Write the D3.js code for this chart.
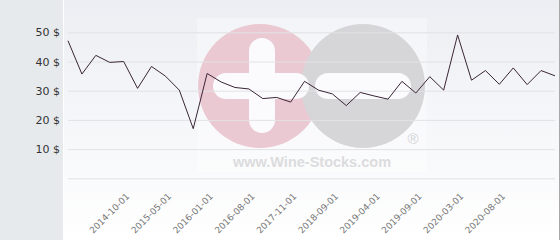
<!DOCTYPE html>
<html>
<head>
<meta charset="utf-8">
<script src="https://cdn.jsdelivr.net/npm/d3@7"></script>
<style>
html,body{margin:0;padding:0;background:#fff;}
svg{display:block;}
</style>
</head>
<body>
<svg id="c" width="560" height="240"></svg>
<script>
const categories = [
  "2014-02-01","2014-04-01","2014-06-01","2014-08-01","2014-10-01","2014-12-01",
  "2015-03-01","2015-05-01","2015-08-01","2015-10-01","2016-01-01","2016-03-01",
  "2016-06-01","2016-08-01","2016-12-01","2017-05-01","2017-11-01","2018-02-01",
  "2018-06-01","2018-09-01","2018-12-01","2019-02-01","2019-04-01","2019-06-01",
  "2019-07-01","2019-09-01","2019-11-01","2020-01-01","2020-03-01","2020-05-01",
  "2020-06-01","2020-08-01","2020-09-01","2020-10-01","2020-11-01","2020-12-01"
];
const prices = [
  47.1, 35.7, 42.1, 39.7, 40.0, 30.8, 38.3, 35.0, 30.2, 17.0, 35.9, 33.0,
  31.1, 30.6, 27.3, 27.7, 26.1, 33.2, 30.2, 28.9, 24.9, 29.4, 28.2, 27.1,
  33.2, 29.2, 34.8, 30.2, 49.1, 33.6, 36.9, 32.2, 37.8, 32.1, 36.9, 35.1
];
const xTickLabels = [
  "2014-10-01","2015-05-01","2016-01-01","2016-08-01","2017-11-01",
  "2018-09-01","2019-04-01","2019-09-01","2020-03-01","2020-08-01"
];
const yTicks = [0, 10, 20, 30, 40, 50];

const svg = d3.select("#c");
const W = 560, H = 240;
const plotLeft = 64, plotRight = 559;

// backgrounds
const defs = svg.append("defs");
const grad = defs.append("linearGradient").attr("id","bg").attr("x1",0).attr("y1",0).attr("x2",0).attr("y2",1);
grad.append("stop").attr("offset","0%").attr("stop-color","#eceef3");
grad.append("stop").attr("offset","100%").attr("stop-color","#ffffff");

svg.append("rect").attr("x",0).attr("y",0).attr("width",63).attr("height",H).attr("fill","#e6eaed");
svg.append("rect").attr("x",63).attr("y",0).attr("width",1).attr("height",H).attr("fill","#ffffff");
svg.append("rect").attr("x",plotLeft).attr("y",0).attr("width",plotRight-plotLeft).attr("height",H).attr("fill","url(#bg)");
svg.append("rect").attr("x",559).attr("y",0).attr("width",1).attr("height",H).attr("fill","#a8a8a8");

// watermark
const wm = svg.append("g");
wm.append("rect").attr("x",197).attr("y",18).attr("width",230).attr("height",154).attr("fill","#ffffff").attr("opacity",0.35);
wm.append("circle").attr("cx",260).attr("cy",86).attr("r",62).attr("fill","#eac9d3");
wm.append("circle").attr("cx",363).attr("cy",86).attr("r",62).attr("fill","#d6d6d8");
wm.append("rect").attr("x",249).attr("y",38).attr("width",26).attr("height",95).attr("rx",13).attr("fill","#fbfbfd");
wm.append("rect").attr("x",213).attr("y",73).attr("width",96).attr("height",26).attr("rx",13).attr("fill","#fbfbfd");
wm.append("rect").attr("x",315).attr("y",73).attr("width",96).attr("height",26).attr("rx",13).attr("fill","#fbfbfd");
wm.append("text").attr("x",413).attr("y",144).attr("text-anchor","middle")
  .attr("font-family","Liberation Sans, Arial, sans-serif").attr("font-size",15).attr("fill","#d2d2d4").text("®");
wm.append("text").attr("x",312).attr("y",167).attr("text-anchor","middle")
  .attr("font-family","Liberation Sans, Arial, sans-serif").attr("font-weight","bold").attr("font-size",14.5)
  .attr("fill","#dcdcde").text("www.Wine-Stocks.com");

// scales
const x = d3.scalePoint().domain(categories).range([68, 555]);
const y = d3.scaleLinear().domain([0, 50]).range([178.3, 32.3]);

// gridlines + y labels
const yAxis = svg.append("g").attr("transform","translate(68,0)")
  .call(d3.axisLeft(y).tickValues(yTicks).tickSize(-(555-68)).tickFormat(d => d === 0 ? "" : d + " $").tickPadding(8));
yAxis.select(".domain").remove();
yAxis.selectAll(".tick line").attr("stroke","#e2e2e4").attr("stroke-width",1);
yAxis.selectAll(".tick text").attr("font-family","DejaVu Sans, sans-serif").attr("font-size",11).attr("fill","#333");

// x labels
const xAxis = svg.append("g").attr("transform","translate(0,178)")
  .call(d3.axisBottom(x).tickValues(xTickLabels).tickSize(0));
xAxis.select(".domain").remove();
xAxis.selectAll(".tick text")
  .attr("font-family","DejaVu Sans, sans-serif").attr("font-size",9).attr("fill","#777")
  .attr("text-anchor","end").attr("dy",0).attr("y",0)
  .attr("transform","translate(6,19) rotate(-45)");

// line
const line = d3.line().x((d,i) => x(categories[i])).y(d => y(d));
svg.append("path").datum(prices).attr("d", line).attr("fill","none")
  .attr("stroke","#3a2536").attr("stroke-width",1).attr("stroke-linejoin","miter");
</script>
</body>
</html>
